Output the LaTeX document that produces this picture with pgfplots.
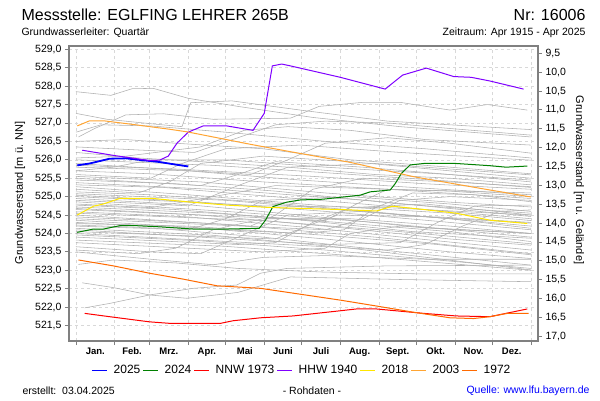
\documentclass[border=0pt]{standalone}
\usepackage{pgfplots}
\pgfplotsset{compat=1.18}
\usepackage{fontspec}
\setmainfont{Liberation Sans}
\definecolor{cblue}{HTML}{0000FF}
\definecolor{cgreen}{HTML}{008000}
\definecolor{cred}{HTML}{FF0000}
\definecolor{cviolet}{HTML}{8000FF}
\definecolor{cyellow}{HTML}{FFE600}
\definecolor{corange}{HTML}{FFA533}
\definecolor{cdorange}{HTML}{FF6A00}
\definecolor{cgrid}{HTML}{D8D8D8}
\definecolor{cframe}{HTML}{808080}
\definecolor{cgl}{HTML}{B0B0B0}
\newcommand{\gl}[1]{\addplot[cgl, line width=0.55pt, forget plot] coordinates {#1};}
\begin{document}
\begin{tikzpicture}
\path[use as bounding box, fill=white] (0pt,0pt) rectangle (600pt,400pt);
\begin{axis}[
  at={(69pt,59pt)}, anchor=south west, width=469pt, height=295pt, scale only axis,
  xmin=-5.6, xmax=370.6, ymin=521.08, ymax=529.09,
  xtick={0,31,59,90,120,151,181,212,243,273,304,334,365}, xticklabels={},
  extra x ticks={15.5,45,74.5,105,135.5,166,196.5,227.5,258,288.5,319,349.5},
  extra x tick labels={Jan.,Feb.,Mrz.,Apr.,Mai,Juni,Juli,Aug.,Sept.,Okt.,Nov.,Dez.},
  extra x tick style={major tick length=0pt, grid=none},
  xticklabel style={font=\bfseries\fontsize{9.5}{11}\selectfont, yshift=-3pt},
  ytick={521.5,522,522.5,523,523.5,524,524.5,525,525.5,526,526.5,527,527.5,528,528.5,529},
  scaled y ticks=false,
  yticklabel style={font=\fontsize{10.5}{12}\selectfont, /pgf/number format/.cd, fixed, fixed zerofill, precision=1, use comma, assume math mode=true},
  xtick pos=bottom, ytick pos=left, tick align=outside,
  major tick length=4pt,
  tick style={cframe, line width=0.8pt},
  axis line style={cframe, line width=1.2pt},
  grid=major, major grid style={cgrid, dash pattern=on 3pt off 3pt, line width=0.6pt},
]
% gray lines (other years)
\gl{(0,527.85)(28,527.75)(45,527.93)(62,527.94)(90,527.67)(130,527.45)(190,527.15)(260,526.9)(365,526.62)}
\gl{(0,527.26)(25,527.1)(60,526.98)(85,526.9)(92,527.55)(125,527.6)(180,527.35)(250,527.05)(365,526.82)}
\gl{(2,526.62)(15,526.85)(40,527.22)(70,527.25)(110,527.1)(172,527.13)(195,527.45)(230,527.56)(260,527.56)(300,527.35)(330,527.5)(362,527.35)}
\gl{(0,526.75)(20,526.95)(60,526.92)(120,526.75)(200,526.5)(280,526.3)(365,526.05)}
\gl{(0,526.5)(40,526.55)(80,526.45)(150,526.3)(220,526.0)(300,525.8)(365,525.62)}
\gl{(0,526.35)(60,526.25)(95,526.2)(130,526.6)(160,526.95)(200,527.05)(250,527.0)(300,526.85)(365,526.67)}
\gl{(0,526.2)(50,526.05)(100,525.95)(170,525.8)(240,525.6)(300,525.5)(365,525.32)}
\gl{(0,526.05)(40,526.1)(100,526.35)(135,526.8)(170,526.9)(220,526.8)(280,526.55)(365,526.4)}
\gl{(0,525.9)(140,525.6)(170,526.0)(200,526.45)(250,526.6)(300,526.45)(365,526.18)}
\gl{(0,525.8)(90,525.7)(180,525.45)(270,525.25)(365,525.05)}
\gl{(0,525.7)(60,525.62)(150,525.4)(250,525.2)(365,524.95)}
\gl{(0,525.6)(60,525.5)(85,525.9)(120,526.3)(180,526.4)(260,526.2)(365,525.99)}
\gl{(0,525.55)(100,525.4)(200,525.1)(300,524.85)(365,524.72)}
\gl{(0,525.45)(80,525.35)(160,525.15)(260,524.8)(365,524.55)}
\gl{(0,525.38)(120,525.18)(240,524.88)(365,524.46)}
\gl{(0,525.27)(90,525.05)(200,524.75)(300,524.55)(365,524.35)}
\gl{(0,525.2)(50,525.1)(75,525.4)(100,525.9)(150,526.1)(220,525.95)(300,525.7)(365,525.5)}
\gl{(0,525.13)(60,525.05)(150,524.85)(250,524.55)(365,524.2)}
\gl{(0,525.04)(100,524.85)(200,524.6)(300,524.3)(365,524.1)}
\gl{(0,524.95)(90,524.78)(180,524.5)(280,524.15)(365,524.0)}
\gl{(0,524.9)(90,524.75)(130,525.3)(170,525.8)(240,525.9)(300,525.75)(365,525.59)}
\gl{(0,524.86)(120,524.6)(240,524.3)(365,523.9)}
\gl{(0,524.77)(80,524.65)(170,524.4)(270,524.05)(365,523.87)}
\gl{(0,524.68)(100,524.5)(200,524.2)(300,523.85)(365,523.68)}
\gl{(0,524.59)(90,524.45)(190,524.15)(290,523.8)(365,523.55)}
\gl{(0,524.5)(140,524.2)(160,524.5)(190,525.2)(230,525.5)(300,525.4)(365,525.27)}
\gl{(0,524.45)(120,524.25)(240,523.9)(365,523.45)}
\gl{(0,524.36)(100,524.15)(200,523.85)(300,523.5)(365,523.32)}
\gl{(0,524.3)(180,524.0)(215,524.1)(240,524.7)(270,525.1)(320,525.05)(365,524.86)}
\gl{(0,524.23)(60,524.15)(150,523.9)(260,523.5)(365,523.14)}
\gl{(0,524.14)(110,523.95)(220,523.6)(365,523.01)}
\gl{(0,524.1)(200,523.7)(260,523.75)(290,524.3)(320,524.75)(365,524.77)}
\gl{(0,524.0)(250,523.55)(280,523.7)(310,524.2)(340,524.6)(365,524.64)}
\gl{(0,523.96)(100,523.8)(200,523.55)(300,523.25)(365,523.05)}
\gl{(0,523.9)(130,523.7)(160,523.75)(190,524.3)(220,524.7)(280,524.8)(365,524.5)}
\gl{(0,523.82)(120,523.65)(240,523.35)(365,523.0)}
\gl{(0,523.64)(60,523.5)(100,523.45)(130,523.9)(170,524.5)(230,524.6)(300,524.4)(365,524.14)}
\gl{(0,523.55)(50,523.45)(80,523.6)(110,524.1)(150,524.4)(220,524.4)(300,524.2)(365,524.0)}
\gl{(2,523.16)(30,523.28)(80,523.2)(130,523.05)(200,522.95)(280,522.9)(365,522.9)}
\gl{(5,522.66)(30,522.53)(59,522.33)(89,522.24)(130,522.4)(172,522.82)(260,522.75)(365,522.69)}
\gl{(7,521.98)(27,522.10)(59,522.33)(94,522.51)(129,522.60)(148,522.92)(169,523.05)(250,523.12)(365,523.14)}
\gl{(0,523.5)(60,523.3)(110,523.15)(150,523.35)(200,523.4)(280,523.3)(365,523.3)}
\gl{(0,525.0)(150,524.75)(250,524.7)(365,524.5)}
\gl{(0,524.8)(60,524.7)(110,525.0)(160,525.3)(250,525.2)(365,525.1)}
\gl{(0,524.2)(90,524.1)(120,524.4)(150,524.9)(220,525.0)(300,524.8)(365,524.6)}
\gl{(0,525.7)(30,525.8)(60,526.0)(120,526.0)(200,525.8)(300,525.6)(365,525.45)}
\gl{(0,524.4)(200,524.1)(230,524.4)(260,524.9)(300,525.0)(365,524.9)}
\gl{(0,523.75)(150,523.5)(200,523.6)(220,524.0)(260,524.2)(365,524.0)}
\gl{(0,525.32)(70,525.25)(140,525.05)(230,524.8)(365,524.4)}
\gl{(0,525.08)(120,524.9)(190,524.7)(280,524.45)(365,524.28)}
\gl{(0,524.72)(110,524.55)(210,524.3)(300,524.05)(365,523.78)}
\gl{(0,524.55)(150,524.35)(260,524.05)(365,523.72)}
\gl{(0,524.27)(90,524.2)(200,523.95)(290,523.7)(365,523.42)}
\gl{(0,525.5)(100,525.3)(130,525.6)(160,525.95)(230,525.8)(300,525.6)(365,525.4)}
\gl{(0,524.65)(200,524.35)(225,524.8)(250,525.2)(300,525.15)(365,525.0)}
\gl{(0,525.85)(80,525.75)(190,525.55)(280,525.35)(365,525.2)}
\gl{(0,524.05)(160,523.85)(185,524.2)(210,524.5)(290,524.45)(365,524.3)}
\gl{(0,526.0)(110,525.85)(200,525.65)(300,525.42)(365,525.25)}
% highlighted years
\addplot[cblue, line width=1.8pt] coordinates {(1,525.85)(11,525.90)(27,526.03)(40,526.04)(53,525.99)(67,525.94)(80,525.87)(90,525.82)};
\addplot[cgreen, line width=1pt] coordinates {(1,524.03)(14,524.12)(22,524.12)(35,524.21)(49,524.21)(67,524.18)(94,524.12)(121,524.12)(147,524.14)(152,524.36)(158,524.73)(169,524.85)(180,524.91)(198,524.93)(228,525.04)(236,525.13)(252,525.18)(256,525.35)(261,525.63)(268,525.86)(279,525.90)(305,525.90)(332,525.84)(345,525.80)(362,525.83)};
\addplot[cred, line width=1pt] coordinates {(7,521.83)(27,521.74)(59,521.60)(75,521.56)(116,521.56)(126,521.63)(148,521.71)(174,521.76)(209,521.89)(225,521.95)(241,521.95)(279,521.83)(305,521.76)(332,521.74)(362,521.95)};
\addplot[cviolet, line width=1pt] coordinates {(5,526.26)(30,526.12)(59,525.98)(67,525.99)(74,526.10)(81,526.45)(90,526.75)(102,526.92)(121,526.92)(142,526.80)(151,527.26)(157.5,528.55)(165,528.60)(172,528.55)(212,528.24)(248,527.92)(262,528.30)(281,528.49)(303,528.26)(317,528.24)(332,528.14)(359,527.92)};
\addplot[cyellow, line width=1pt] coordinates {(1,524.50)(14,524.74)(22,524.80)(35,524.95)(62,524.95)(89,524.86)(121,524.77)(153,524.71)(180,524.68)(212,524.65)(241,524.61)(254,524.74)(279,524.65)(305,524.55)(332,524.36)(362,524.27)};
\addplot[corange, line width=1pt] coordinates {(1,526.92)(11,527.06)(22,527.06)(48,526.95)(75,526.83)(89,526.76)(140,526.42)(172,526.22)(220,525.93)(271,525.54)(320,525.25)(365,524.99)};
\addplot[cdorange, line width=1pt] coordinates {(2,523.28)(30,523.12)(59,522.92)(86,522.76)(113,522.58)(148,522.51)(176,522.37)(212,522.19)(241,522.03)(271,521.86)(300,521.71)(319,521.69)(332,521.74)(346,521.83)(363,521.83)};
\end{axis}
\begin{axis}[
  at={(69pt,59pt)}, anchor=south west, width=469pt, height=295pt, scale only axis,
  xmin=-5.6, xmax=370.6, ymin=9.307, ymax=17.125, y dir=reverse,
  axis x line=none, axis y line*=right,
  ytick={9.5,10,10.5,11,11.5,12,12.5,13,13.5,14,14.5,15,15.5,16,16.5,17},
  scaled y ticks=false,
  yticklabel style={font=\fontsize{10.5}{12}\selectfont, /pgf/number format/.cd, fixed, fixed zerofill, precision=1, use comma, assume math mode=true},
  tick align=outside, major tick length=4pt,
  tick style={cframe, line width=0.8pt},
  axis line style={cframe, line width=1.2pt},
  legend columns=7,
  legend style={at={(0.496,-0.1)}, anchor=center, draw=none, fill=none, font=\fontsize{12}{14}\selectfont,
    column sep=0pt, /tikz/every odd column/.append style={column sep=4pt}},
  legend image code/.code={\draw[#1] (0pt,0pt) -- (15pt,0pt);},
]
\addlegendimage{draw=cblue, line width=1.8pt}
\addlegendentry{2025}
\addlegendimage{draw=cgreen, line width=1.3pt}
\addlegendentry{2024}
\addlegendimage{draw=cred, line width=1.3pt}
\addlegendentry{NNW 1973}
\addlegendimage{draw=cviolet, line width=1.3pt}
\addlegendentry{HHW 1940}
\addlegendimage{draw=cyellow, line width=1.3pt}
\addlegendentry{2018}
\addlegendimage{draw=corange, line width=1.3pt}
\addlegendentry{2003}
\addlegendimage{draw=cdorange, line width=1.3pt}
\addlegendentry{1972}
\end{axis}
\node[rotate=90, font=\fontsize{11}{13}\selectfont] at (20pt,207pt) {Grundwasserstand [m ü. NN]};
\node[rotate=-90, font=\fontsize{11}{13}\selectfont] at (579pt,220pt) {Grundwasserstand [m u. Gelände]};
\node[anchor=west, font=\fontsize{16}{18}\selectfont] at (18pt,385pt) {Messstelle: EGLFING LEHRER 265B};
\node[anchor=east, font=\fontsize{16}{18}\selectfont] at (589pt,385pt) {Nr: 16006};
\node[anchor=west, font=\fontsize{10.5}{12}\selectfont] at (18pt,367pt) {Grundwasserleiter: Quartär};
\node[anchor=east, font=\fontsize{10.5}{12}\selectfont] at (589pt,367pt) {Zeitraum: Apr 1915 - Apr 2025};
\node[anchor=west, font=\fontsize{10.5}{12}\selectfont] at (19pt,9pt) {erstellt:\ \ 03.04.2025};
\node[font=\fontsize{10.5}{12}\selectfont] at (312pt,9pt) {- Rohdaten -};
\node[anchor=east, font=\fontsize{10.5}{12}\selectfont, text=cblue] at (593pt,9pt) {Quelle: www.lfu.bayern.de};
\end{tikzpicture}
\end{document}
